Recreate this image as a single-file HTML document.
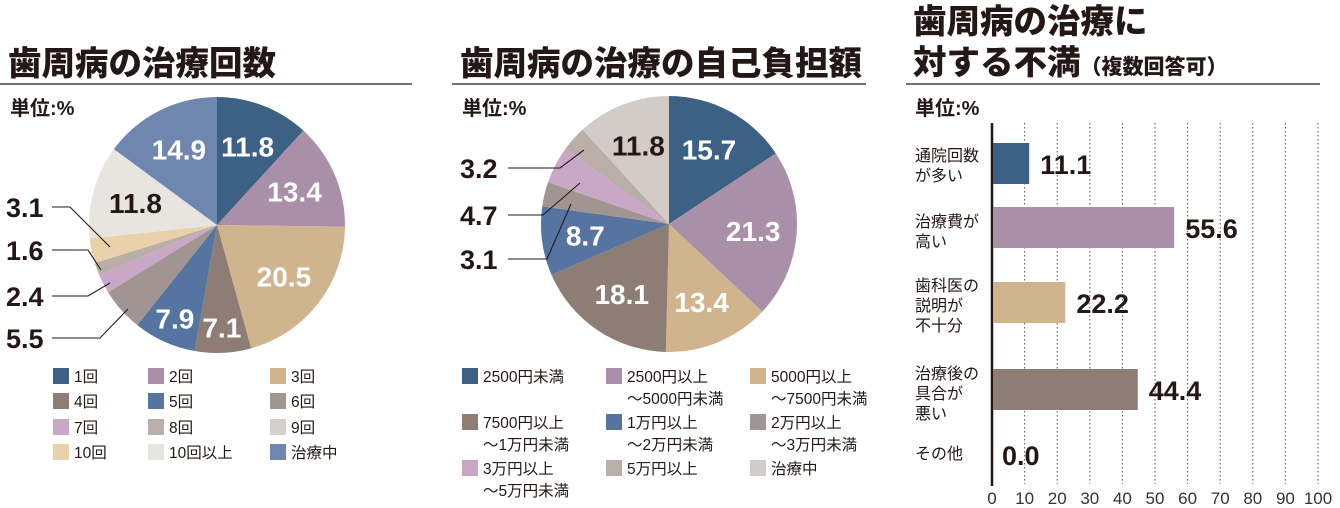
<!DOCTYPE html>
<html><head><meta charset="utf-8">
<style>
body{margin:0;width:1340px;height:508px;background:#fff;overflow:hidden;font-family:"Liberation Sans","Noto Sans CJK JP",sans-serif;color:#231815}
svg{position:absolute;left:0;top:0}
</style></head><body>
<svg id="s" width="1340" height="508" viewBox="0 0 1340 508" xmlns="http://www.w3.org/2000/svg" font-family="Liberation Sans, Noto Sans CJK JP, sans-serif">
<g fill="#231815" font-weight="900">
<text x="8" y="75" font-size="33.5">歯周病の治療回数</text>
<text x="460" y="75" font-size="33.5">歯周病の治療の自己負担額</text>
<text x="913" y="33" font-size="33.5">歯周病の治療に</text>
<text x="913" y="74" font-size="33.5">対する不満<tspan font-size="21" dx="0">（複数回答可）</tspan></text>
</g>
<line x1="0" y1="84" x2="412" y2="84" stroke="#231815" stroke-width="1.2"/>
<line x1="452" y1="84" x2="866" y2="84" stroke="#231815" stroke-width="1.2"/>
<line x1="906" y1="84" x2="1320" y2="84" stroke="#231815" stroke-width="1.2"/>
<g font-size="20" font-weight="bold" fill="#231815">
<text x="10" y="115">単位:%</text>
<text x="462" y="115">単位:%</text>
<text x="915" y="115">単位:%</text>
</g>
<g id="pie1"></g>
<g id="pie2"></g>
<g id="bars"></g>
<g id="callouts" stroke="#231815" stroke-width="1.1" fill="none">
<polyline points="52,207 70,207 110,247"/>
<polyline points="52,250 88,250 101,270"/>
<polyline points="52,296 88,296 110,283"/>
<polyline points="52,338 100,338 128,309"/>
<polyline points="508,168 560,168 584,150"/>
<polyline points="508,215 543,215 580,183"/>
<polyline points="508,259 547,259 571,204"/>
</g>
<g font-size="27" font-weight="bold" fill="#231815">
<text x="6" y="217">3.1</text>
<text x="6" y="260">1.6</text>
<text x="6" y="306">2.4</text>
<text x="6" y="348">5.5</text>
<text x="460" y="178">3.2</text>
<text x="460" y="225">4.7</text>
<text x="460" y="269">3.1</text>
</g>
<g id="leg1"></g>
<g id="leg2"></g>
</svg>
<script>
const NS='http://www.w3.org/2000/svg';
const pie1Cats=['1回','2回','3回','4回','5回','6回','7回','8回','9回','10回','10回以上','治療中'];
const pie1Vals=[11.8,13.4,20.5,7.1,7.9,5.5,2.4,1.6,0,3.1,11.8,14.9];
const pie1Colors=['#3d6185','#a98fa8','#d0b48d','#8d7d74','#5674a0','#a09590','#c8a8c6','#b9aea8','#d3cfcc','#e9d1a9','#e8e5e1','#6f87ae'];
const pie1Dark=[false,false,false,false,false,false,false,false,false,false,true,false];
const pie2Cats=['2500円未満','2500円以上\n～5000円未満','5000円以上\n～7500円未満','7500円以上\n～1万円未満','1万円以上\n～2万円未満','2万円以上\n～3万円未満','3万円以上\n～5万円未満','5万円以上','治療中'];
const pie2Vals=[15.7,21.3,13.4,18.1,8.7,3.1,4.7,3.2,11.8];
const pie2Colors=['#3d6185','#a98fa8','#d0b48d','#8d7d74','#5674a0','#a09590','#c8a8c6','#b9aea8','#d3cbc7'];
const pie2Dark=[false,false,false,false,false,false,false,false,true];
const barCats=['通院回数\nが多い','治療費が\n高い','歯科医の\n説明が\n不十分','治療後の\n具合が\n悪い','その他'];
const barVals=[11.1,55.6,22.2,44.4,0.0];
const barColors=['#3d6185','#a98fa8','#d0b48d','#8d7d74','#999'];
const xTicks=[0,10,20,30,40,50,60,70,80,90,100];

function mk(tag,attrs,parent){const e=document.createElementNS(NS,tag);for(const k in attrs)e.setAttribute(k,attrs[k]);parent.appendChild(e);return e;}

function drawPie(g,cx,cy,r,cats,vals,colors,dark,minLabel){
  const total=vals.reduce((a,b)=>a+b,0);
  let a0=-Math.PI/2;
  vals.forEach((v,i)=>{
    const a1=a0+v/total*2*Math.PI;
    if(v>0){
      const large=(a1-a0)>Math.PI?1:0;
      const p=mk('path',{d:`M${cx},${cy} L${cx+r*Math.cos(a0)},${cy+r*Math.sin(a0)} A${r},${r} 0 ${large} 1 ${cx+r*Math.cos(a1)},${cy+r*Math.sin(a1)} Z`,fill:colors[i]},g);
      
      
      if(v>=minLabel){
        const am=(a0+a1)/2, lr=r*(v<8.5?0.8:0.66);
        const t=mk('text',{x:cx+lr*Math.cos(am),y:cy+lr*Math.sin(am)+10,'text-anchor':'middle','font-size':28,'font-weight':'bold',fill:dark[i]?'#231815':'#fff'},g);
        t.textContent=v.toFixed(1);
        
        
      }
    }
    a0=a1;
  });
}
drawPie(document.getElementById('pie1'),217,225,128,pie1Cats,pie1Vals,pie1Colors,pie1Dark,7);
drawPie(document.getElementById('pie2'),669,224,128,pie2Cats,pie2Vals,pie2Colors,pie2Dark,8);

function drawLegend(g,cats,colors,cols,rowY){
  cats.forEach((c,i)=>{
    const x=cols[i%3], y=rowY[Math.floor(i/3)];
    const sq=mk('rect',{x:x,y:y-7,width:16,height:16,fill:colors[i]},g);
    
    
    const lines=c.split('\n');
    lines.forEach((ln,j)=>{
      const t=mk('text',{x:x+21,y:y+7+j*22,'font-size':15.5,fill:'#231815'},g);
      t.textContent=ln;
      
      
    });
  });
}
drawLegend(document.getElementById('leg1'),pie1Cats,pie1Colors,[53,148,270],[375,400,426,451]);
drawLegend(document.getElementById('leg2'),pie2Cats,pie2Colors,[462,606,750],[375,421,467]);

const bg=document.getElementById('bars');
const x0=992,x1=1318,xs=v=>x0+(x1-x0)*v/100;
xTicks.forEach(t=>{
  if(t>0){const l=mk('line',{x1:xs(t),y1:123,x2:xs(t),y2:484,stroke:'#555','stroke-width':1,'stroke-dasharray':'1.5,2.5'},bg);
  }
  const tx=mk('text',{x:xs(t),y:504,'text-anchor':'middle','font-size':17,fill:'#333'},bg);
  tx.textContent=t;
  
  
});
const ax=mk('line',{x1:x0,y1:123,x2:x0,y2:486,stroke:'#231815','stroke-width':2.5},bg);


const barTop=[143,207,282,369,434];
const catY=[161,227,291,379,459];
barVals.forEach((v,i)=>{
  if(v>0){const b=mk('rect',{x:x0+1,y:barTop[i],width:xs(v)-x0,height:41,fill:barColors[i]},bg);
  }
  const t=mk('text',{x:(v>0?xs(v)+12:x0+10),y:barTop[i]+31,'font-size':27,'font-weight':'bold',fill:'#231815'},bg);
  t.textContent=v.toFixed(1);
  
  
  barCats[i].split('\n').forEach((ln,j)=>{
    const c=mk('text',{x:915,y:catY[i]+j*20,'font-size':16,fill:'#231815'},bg);
    c.textContent=ln;
    
    
  });
});
</script>
</body></html>
